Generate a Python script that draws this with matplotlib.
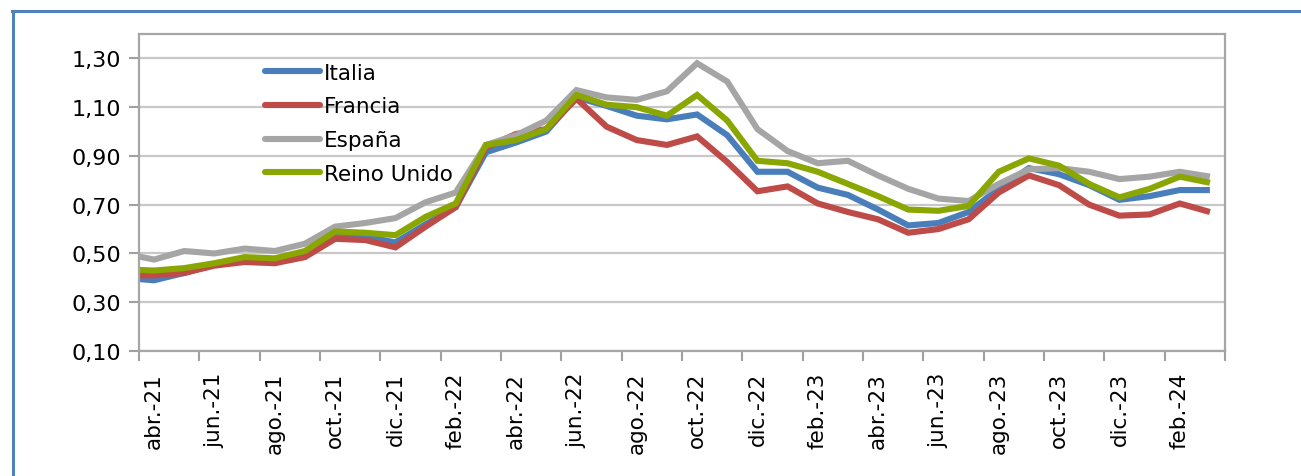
import numpy as np
import matplotlib
matplotlib.use("Agg")
import matplotlib.pyplot as plt
from matplotlib.lines import Line2D
from matplotlib.ticker import FixedLocator, FuncFormatter

# Monthly series, mar-21 .. mar-24 (the first month sits just outside the axis)
months = ['mar.-21', 'abr.-21', 'may.-21', 'jun.-21', 'jul.-21', 'ago.-21', 'sep.-21',
          'oct.-21', 'nov.-21', 'dic.-21', 'ene.-22', 'feb.-22', 'mar.-22', 'abr.-22',
          'may.-22', 'jun.-22', 'jul.-22', 'ago.-22', 'sep.-22', 'oct.-22', 'nov.-22',
          'dic.-22', 'ene.-23', 'feb.-23', 'mar.-23', 'abr.-23', 'may.-23', 'jun.-23',
          'jul.-23', 'ago.-23', 'sep.-23', 'oct.-23', 'nov.-23', 'dic.-23', 'ene.-24',
          'feb.-24', 'mar.-24']

italia = [0.40, 0.39, 0.42, 0.455, 0.475, 0.47, 0.50, 0.575, 0.57, 0.545, 0.62, 0.69,
          0.915, 0.955, 1.00, 1.14, 1.105, 1.065, 1.05, 1.07, 0.985, 0.835, 0.835, 0.77,
          0.74, 0.68, 0.615, 0.625, 0.67, 0.765, 0.85, 0.825, 0.78, 0.72, 0.735, 0.76, 0.76]

francia = [0.41, 0.41, 0.42, 0.45, 0.465, 0.46, 0.485, 0.56, 0.555, 0.525, 0.61, 0.69,
           0.935, 0.99, 1.01, 1.135, 1.02, 0.965, 0.945, 0.98, 0.875, 0.755, 0.775, 0.705,
           0.67, 0.64, 0.585, 0.60, 0.64, 0.75, 0.82, 0.78, 0.70, 0.655, 0.66, 0.705, 0.67]

espana = [0.50, 0.475, 0.51, 0.50, 0.52, 0.51, 0.54, 0.61, 0.625, 0.645, 0.71, 0.75,
          0.945, 0.985, 1.045, 1.17, 1.14, 1.13, 1.165, 1.28, 1.205, 1.01, 0.92, 0.87,
          0.88, 0.82, 0.765, 0.725, 0.715, 0.785, 0.845, 0.85, 0.835, 0.805, 0.815, 0.835, 0.815]

reino_unido = [0.435, 0.43, 0.44, 0.46, 0.485, 0.48, 0.51, 0.59, 0.585, 0.575, 0.65, 0.705,
               0.945, 0.965, 1.01, 1.15, 1.11, 1.10, 1.065, 1.15, 1.045, 0.88, 0.87, 0.835,
               0.785, 0.735, 0.68, 0.675, 0.695, 0.835, 0.89, 0.86, 0.785, 0.73, 0.765, 0.815, 0.79]

yticks = [0.10, 0.30, 0.50, 0.70, 0.90, 1.10, 1.30]

series = [('Italia', italia, '#4A7EBB'),
          ('Francia', francia, '#BE4B48'),
          ('España', espana, '#A5A5A5'),
          ('Reino Unido', reino_unido, '#8AA600')]

fig = plt.figure(figsize=(13.01, 4.77), dpi=100)
ax = fig.add_axes([139 / 1301, 1 - 352 / 477, (1225 - 139) / 1301, (352 - 35) / 477])

x = np.arange(len(months)) - 1
for name, vals, col in series:
    ax.plot(x, vals, color=col, lw=4.4, label=name, solid_joinstyle='miter',
            solid_capstyle='butt')

ax.set_xlim(-0.5, len(months) - 1.5)
ax.set_ylim(0.10, 1.40)

# y axis
ax.yaxis.set_major_locator(FixedLocator(yticks))
ax.yaxis.set_major_formatter(FuncFormatter(lambda v, p: f'{v:.2f}'.replace('.', ',')))
ax.grid(axis='y', color='#C8C8C8', lw=1.6)
ax.set_axisbelow(True)

# x axis: tick marks between categories, labels every two months
ax.xaxis.set_major_locator(FixedLocator(np.arange(-0.5, len(months) - 1, 2)))
ax.xaxis.set_major_formatter(FuncFormatter(lambda v, p: ''))
ax.xaxis.set_minor_locator(FixedLocator(x[1::2]))
ax.set_xticklabels([m for m in months[1::2]], minor=True, rotation=90)
ax.tick_params(axis='x', which='minor', length=0, pad=15, labelsize=15.5)
ax.tick_params(axis='x', which='major', length=7, width=1.5, color='#A0A0A0')
ax.tick_params(axis='y', length=7, width=1.5, color='#A0A0A0', labelsize=16, pad=6)

for s in ax.spines.values():
    s.set_color('#A6A6A6')
    s.set_linewidth(1.6)

leg = ax.legend(loc='upper left', bbox_to_anchor=(0.116, 0.91), frameon=False,
                fontsize=15.5, handlelength=2.55, handletextpad=0.2, labelspacing=0.64,
                borderpad=0, borderaxespad=0)
for h in leg.get_lines():
    h.set_solid_capstyle('round')
    h.set_linewidth(4.4)

# outer blue frame (top and left edges)
fig.add_artist(Line2D([12 / 1301, 1.0], [1 - 11.5 / 477] * 2, color='#4F81BD', lw=2.2))
fig.add_artist(Line2D([12.5 / 1301] * 2, [0.0, 1 - 11.5 / 477], color='#4F81BD', lw=2.2))

fig.savefig('out.png', dpi=100)
